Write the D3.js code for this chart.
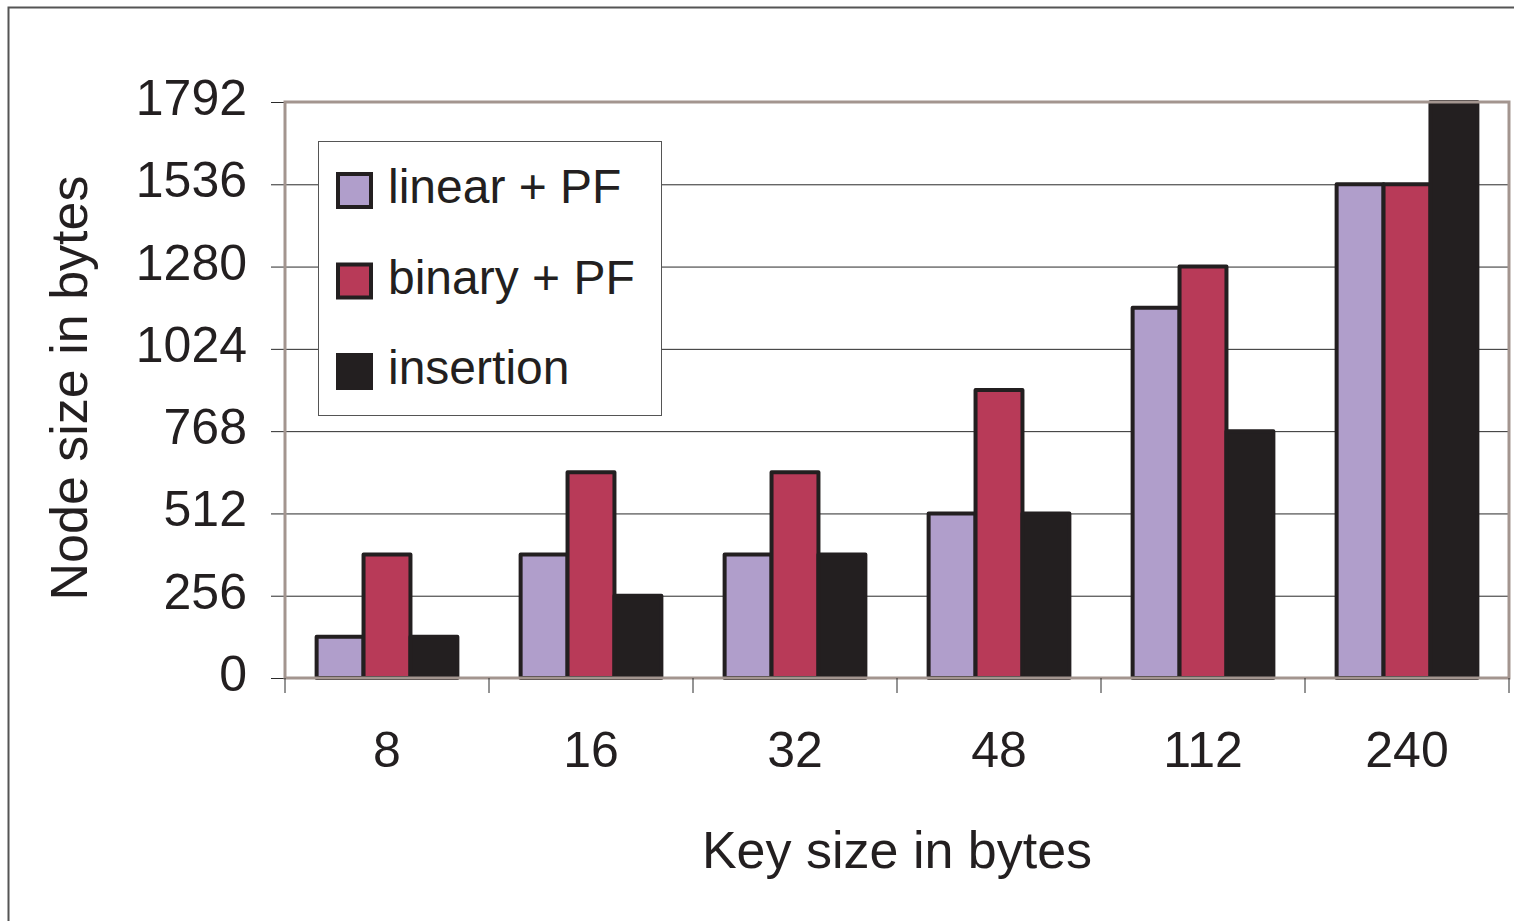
<!DOCTYPE html>
<html>
<head>
<meta charset="utf-8">
<script src="https://cdn.jsdelivr.net/npm/d3@7/dist/d3.min.js"></script>
<style>
  html, body { margin: 0; padding: 0; background: #fff; }
  svg { display: block; font-family: "Liberation Sans", Arial, sans-serif; }
</style>
</head>
<body>
<svg id="chart" width="1514" height="921"></svg>
<script>
// Key sizes (categories) and node sizes per search variant
const keySizes = ["8", "16", "32", "48", "112", "240"];
const seriesNames = ["linear + PF", "binary + PF", "insertion"];
const linearPF = [128, 384, 384, 512, 1152, 1536];
const binaryPF = [384, 640, 640, 896, 1280, 1536];
const insertion = [128, 256, 384, 512, 768, 1792];
const yTicks = [0, 256, 512, 768, 1024, 1280, 1536, 1792];
const seriesColors = ["#b09ecb", "#b83a58", "#231f20"];

const seriesValues = [linearPF, binaryPF, insertion];
const rows = keySizes.map((k, i) => ({
  key: k,
  values: seriesNames.map((s, j) => ({ series: s, idx: j, value: seriesValues[j][i] }))
}));

const svg = d3.select("#chart");
const plot = { left: 285, top: 102, right: 1509, bottom: 678 };

// outer frame
svg.append("rect")
  .attr("x", 8.5).attr("y", 7.5)
  .attr("width", 1520).attr("height", 930)
  .attr("fill", "none").attr("stroke", "#555").attr("stroke-width", 2);

const x = d3.scaleBand().domain(keySizes).range([plot.left, plot.right]);
const xInner = d3.scaleBand().domain(seriesNames)
  .range([0, x.bandwidth() * 0.69]);
const y = d3.scaleLinear().domain([0, 1792]).range([plot.bottom, plot.top]);

// horizontal gridlines
svg.append("g").selectAll("line").data(yTicks.filter(t => t > 0)).join("line")
  .attr("x1", plot.left).attr("x2", plot.right)
  .attr("y1", d => y(d) + 0.5).attr("y2", d => y(d) + 0.5)
  .attr("stroke", "#2a2a2a").attr("stroke-width", 1);

// y axis
const yAxis = svg.append("g").attr("transform", `translate(${plot.left},0)`)
  .call(d3.axisLeft(y).tickValues(yTicks).tickSize(14).tickPadding(24).tickFormat(d3.format("d")));
yAxis.select(".domain").remove();
yAxis.selectAll(".tick line").attr("stroke", "#2a2a2a");
yAxis.selectAll(".tick text").attr("font-size", 50).attr("fill", "#231f20")
  .attr("dy", "0.25em")
  .attr("font-family", "Liberation Sans, Arial, sans-serif");

// bars
const groups = svg.append("g").selectAll("g").data(rows).join("g")
  .attr("transform", d => `translate(${x(d.key) + (x.bandwidth() - xInner.range()[1]) / 2},0)`);
groups.selectAll("rect").data(d => d.values).join("rect")
  .attr("x", d => xInner(d.series))
  .attr("y", d => y(d.value))
  .attr("width", xInner.bandwidth())
  .attr("height", d => y(0) - y(d.value))
  .attr("fill", d => seriesColors[d.idx])
  .attr("stroke", "#231f20").attr("stroke-width", 4).attr("stroke-linejoin", "round");

// plot area border
svg.append("rect")
  .attr("x", plot.left).attr("y", plot.top)
  .attr("width", plot.right - plot.left).attr("height", plot.bottom - plot.top)
  .attr("fill", "none").attr("stroke", "#a3958f").attr("stroke-width", 3);

// x axis ticks between categories
const boundaries = keySizes.map(k => x(k)).concat([plot.right]);
svg.append("g").selectAll("line").data(boundaries).join("line")
  .attr("x1", d => d).attr("x2", d => d)
  .attr("y1", plot.bottom).attr("y2", plot.bottom + 15)
  .attr("stroke", "#2a2a2a").attr("stroke-width", 1);

// x axis labels
svg.append("g").selectAll("text").data(keySizes).join("text")
  .attr("x", d => x(d) + x.bandwidth() / 2)
  .attr("y", 767)
  .attr("text-anchor", "middle")
  .attr("font-size", 50).attr("fill", "#231f20")
  .text(d => d);

// axis titles
svg.append("text")
  .attr("x", 897).attr("y", 868)
  .attr("text-anchor", "middle")
  .attr("font-size", 52).attr("fill", "#231f20")
  .text("Key size in bytes");
svg.append("text")
  .attr("transform", "translate(87,388) rotate(-90)")
  .attr("text-anchor", "middle")
  .attr("font-size", 52).attr("fill", "#231f20")
  .text("Node size in bytes");

// legend
const legend = svg.append("g");
legend.append("rect")
  .attr("x", 318.5).attr("y", 141.5).attr("width", 343).attr("height", 274)
  .attr("fill", "#fff").attr("stroke", "#555").attr("stroke-width", 1);
const items = legend.selectAll("g").data(seriesNames).join("g")
  .attr("transform", (d, i) => `translate(338,${174 + i * 90.5})`);
items.append("rect")
  .attr("width", 33).attr("height", 33)
  .attr("fill", (d, i) => seriesColors[i])
  .attr("stroke", "#231f20").attr("stroke-width", 4);
items.append("text")
  .attr("x", 50).attr("y", 29)
  .attr("font-size", 48).attr("fill", "#231f20")
  .text(d => d);
</script>
</body>
</html>
